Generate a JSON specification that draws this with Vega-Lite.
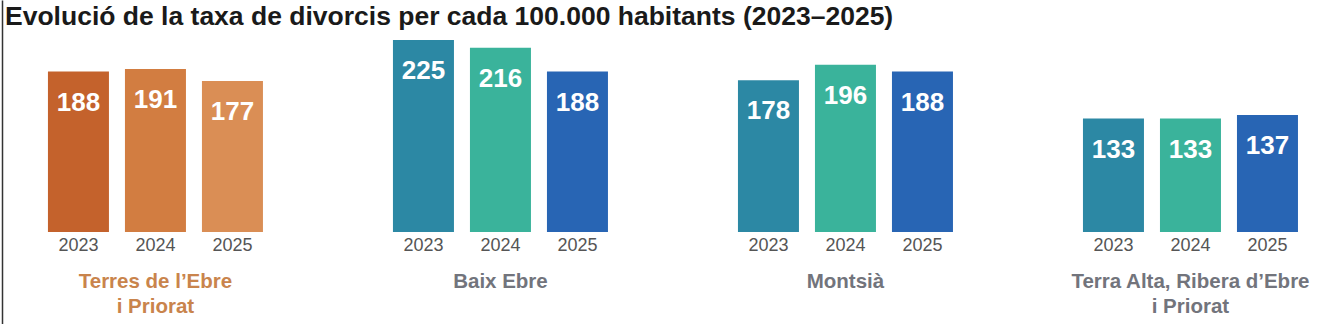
{
  "$schema": "https://vega.github.io/schema/vega-lite/v6.json",
  "width": 1338,
  "height": 324,
  "autosize": "none",
  "padding": 0,
  "background": "white",
  "title": {
    "text": "Evolució de la taxa de divorcis per cada 100.000 habitants (2023–2025)",
    "anchor": "start",
    "frame": "group",
    "font": "Liberation Sans",
    "fontSize": 26.5,
    "fontWeight": "bold",
    "color": "#1a1a1a",
    "baseline": "alphabetic",
    "offset": 11,
    "dx": 5,
    "dy": 62
  },
  "data": {
    "values": [
      {"comarca": "Terres de l’Ebre i Priorat", "any": "2023", "taxa": 188, "serie": "Total 2023"},
      {"comarca": "Terres de l’Ebre i Priorat", "any": "2024", "taxa": 191, "serie": "Total 2024"},
      {"comarca": "Terres de l’Ebre i Priorat", "any": "2025", "taxa": 177, "serie": "Total 2025"},
      {"comarca": "Baix Ebre", "any": "2023", "taxa": 225, "serie": "Comarca 2023"},
      {"comarca": "Baix Ebre", "any": "2024", "taxa": 216, "serie": "Comarca 2024"},
      {"comarca": "Baix Ebre", "any": "2025", "taxa": 188, "serie": "Comarca 2025"},
      {"comarca": "Montsià", "any": "2023", "taxa": 178, "serie": "Comarca 2023"},
      {"comarca": "Montsià", "any": "2024", "taxa": 196, "serie": "Comarca 2024"},
      {"comarca": "Montsià", "any": "2025", "taxa": 188, "serie": "Comarca 2025"},
      {"comarca": "Terra Alta, Ribera d’Ebre i Priorat", "any": "2023", "taxa": 133, "serie": "Comarca 2023"},
      {"comarca": "Terra Alta, Ribera d’Ebre i Priorat", "any": "2024", "taxa": 133, "serie": "Comarca 2024"},
      {"comarca": "Terra Alta, Ribera d’Ebre i Priorat", "any": "2025", "taxa": 137, "serie": "Comarca 2025"}
    ]
  },
  "encoding": {
    "x": {
      "field": "comarca",
      "type": "nominal",
      "sort": null,
      "title": null,
      "scale": {"paddingInner": 0.3768, "paddingOuter": 0.1275, "align": 0.545},
      "axis": {
        "orient": "bottom",
        "domain": false,
        "ticks": false,
        "labelAngle": 0,
        "labelLimit": 0,
        "labelPadding": -37,
        "labelBaseline": "alphabetic",
        "labelFont": "Liberation Sans",
        "labelFontSize": 20.5,
        "labelFontWeight": "bold",
        "labelLineHeight": 25,
        "labelExpr": "split(replace(datum.label, ' i Priorat', '|i Priorat'), '|')",
        "labelColor": {
          "condition": {"test": "indexof(datum.label, 'Terres') === 0", "value": "#c9844c"},
          "value": "#72747c"
        }
      }
    },
    "xOffset": {
      "field": "any",
      "type": "nominal",
      "scale": {"paddingInner": 0.2078, "paddingOuter": 0}
    }
  },
  "layer": [
    {
      "mark": {"type": "bar"},
      "encoding": {
        "y": {
          "field": "taxa",
          "type": "quantitative",
          "scale": {"domain": [-108, 272], "nice": false, "zero": true},
          "axis": {
            "orient": "left",
            "domain": true,
            "domainColor": "#333333",
            "domainWidth": 1.5,
            "offset": -2,
            "labels": false,
            "ticks": false,
            "grid": false,
            "title": null
          }
        },
        "color": {
          "field": "serie",
          "type": "nominal",
          "scale": {
            "domain": ["Total 2023", "Total 2024", "Total 2025", "Comarca 2023", "Comarca 2024", "Comarca 2025"],
            "range": ["#c4622c", "#d27d41", "#da8e55", "#2c88a4", "#3ab39b", "#2865b4"]
          },
          "legend": null
        }
      }
    },
    {
      "mark": {"type": "text", "baseline": "alphabetic", "dy": 39, "fontSize": 26, "fontWeight": "bold", "color": "white", "font": "Liberation Sans"},
      "encoding": {
        "y": {"field": "taxa", "type": "quantitative"},
        "text": {"field": "taxa", "type": "quantitative"}
      }
    },
    {
      "mark": {"type": "text", "baseline": "alphabetic", "dy": 19, "fontSize": 18, "color": "#555555", "font": "Liberation Sans"},
      "encoding": {
        "y": {"datum": 0, "type": "quantitative"},
        "text": {"field": "any", "type": "nominal"}
      }
    }
  ],
  "config": {"view": {"stroke": null}}
}
